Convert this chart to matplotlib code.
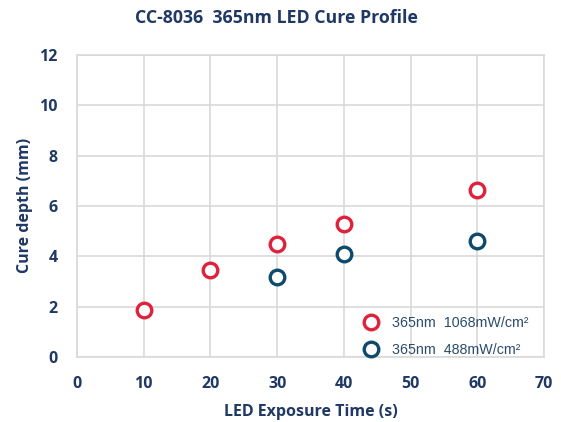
import matplotlib
matplotlib.use("Agg")
import matplotlib.pyplot as plt

# Data
x_red = [10, 20, 30, 40, 60]
y_red = [1.85, 3.45, 4.5, 5.3, 6.65]
x_blue = [30, 40, 60]
y_blue = [3.17, 4.1, 4.62]
label_red = "365nm  1068mW/cm²"
label_blue = "365nm  488mW/cm²"
title = "CC-8036  365nm LED Cure Profile"
xlabel = "LED Exposure Time (s)"
ylabel = "Cure depth (mm)"
xticks = [0, 10, 20, 30, 40, 50, 60, 70]
yticks = [0, 2, 4, 6, 8, 10, 12]

navy = "#1F3864"
red = "#E0213B"
blue = "#0D4A6B"
grid = "#D9D9D9"

fig = plt.figure(figsize=(5.61, 4.22), dpi=100)
ax = fig.add_axes([0.137, 0.154, 0.833, 0.716])

ax.plot(x_red, y_red, linestyle="none", marker="o", markersize=10.5,
        markerfacecolor="white", markeredgecolor=red, markeredgewidth=2.4,
        label=label_red, zorder=3)
ax.plot(x_blue, y_blue, linestyle="none", marker="o", markersize=10.5,
        markerfacecolor="white", markeredgecolor=blue, markeredgewidth=2.4,
        label=label_blue, zorder=3)

ax.set_xlim(0, 70)
ax.set_ylim(0, 12)
ax.set_xticks(xticks)
ax.set_yticks(yticks)
ax.grid(True, color=grid, linewidth=1.2)
ax.set_axisbelow(True)
for s in ax.spines.values():
    s.set_color(grid)
    s.set_linewidth(1.2)
ax.tick_params(length=0, pad=14, labelcolor=navy)
for lbl in ax.get_xticklabels() + ax.get_yticklabels():
    lbl.set_fontfamily("Open Sans")
    lbl.set_fontweight("bold")
    lbl.set_fontsize(11.5)

ax.set_xlabel(xlabel, fontfamily="Open Sans", fontweight="bold", fontsize=11.5,
              color=navy, labelpad=8)
ax.set_ylabel(ylabel, fontfamily="Open Sans", fontweight="bold", fontsize=11.5,
              color=navy, labelpad=4)
fig.text(0.493, 0.957, title, ha="center", va="center", fontfamily="Open Sans",
         fontweight="bold", fontsize=12.8, color=navy)

leg = ax.legend(loc="lower right", frameon=False,
                prop={"family": "Liberation Sans", "size": 10.3},
                handletextpad=0.5, borderaxespad=0.2, labelspacing=0.9,
                bbox_to_anchor=(0.985, -0.028))
for t in leg.get_texts():
    t.set_color("#2B4C6B")

fig.savefig("out.png", dpi=100)
